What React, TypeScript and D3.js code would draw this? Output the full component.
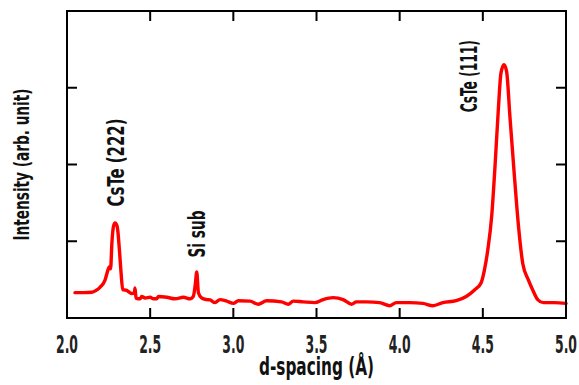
import React from "react";
import * as d3 from "d3";

// XRD scan
const dSpacing = [
  2.048, 2.1, 2.148, 2.175, 2.198, 2.228, 2.247, 2.255, 2.262, 2.27, 2.28, 2.289, 2.302, 2.315, 2.325,
  2.335, 2.359, 2.389, 2.405, 2.409, 2.415, 2.439, 2.449, 2.47, 2.5, 2.52, 2.539, 2.55, 2.6, 2.649,
  2.7, 2.74, 2.759, 2.772, 2.78, 2.79, 2.81, 2.84, 2.86, 2.89, 2.92, 2.96, 3.0, 3.03, 3.1, 3.15,
  3.2, 3.29, 3.33, 3.36, 3.42, 3.49, 3.54, 3.6, 3.66, 3.71, 3.74, 3.8, 3.88, 3.94, 3.98, 4.06,
  4.14, 4.2, 4.26, 4.34, 4.4, 4.45, 4.49, 4.51, 4.53, 4.553, 4.573, 4.593, 4.609, 4.627, 4.643,
  4.663, 4.687, 4.713, 4.74, 4.773, 4.8, 4.83, 4.864, 4.93, 5.0,
];
const intensity = [
  0.33, 0.33, 0.335, 0.36, 0.4, 0.49, 0.63, 0.67, 0.64, 0.98, 1.2, 1.24, 1.19, 0.89, 0.59,
  0.37, 0.36, 0.32, 0.33, 0.39, 0.26, 0.25, 0.28, 0.26, 0.27, 0.25, 0.25, 0.28, 0.27, 0.25,
  0.27, 0.25, 0.28, 0.45, 0.6, 0.33, 0.26, 0.24, 0.235, 0.2, 0.24, 0.22, 0.19, 0.225, 0.22, 0.18,
  0.225, 0.21, 0.18, 0.22, 0.21, 0.2, 0.24, 0.265, 0.24, 0.18, 0.21, 0.21, 0.2, 0.16, 0.2, 0.2,
  0.19, 0.16, 0.2, 0.225, 0.28, 0.365, 0.46, 0.63, 0.89, 1.32, 1.97, 2.71, 3.19, 3.3, 3.21,
  2.62, 1.93, 1.23, 0.71, 0.5, 0.365, 0.24, 0.2, 0.2, 0.19,
];
const xTicks = [2.0, 2.5, 3.0, 3.5, 4.0, 4.5, 5.0];
const yTicks = [1, 2, 3];
// peak labels: position (d, intensity) of the text end, and the squeezed length
const peakLabels = [
  { text: "CsTe (222)", d: 2.345, y: 2.6, len: 88 },
  { text: "Si sub", d: 2.832, y: 1.4, len: 47 },
  { text: "CsTe (111)", d: 4.465, y: 3.62, len: 72 },
];

const W = 579, H = 385;
const margin = { top: 11, right: 13, bottom: 67, left: 67 };
const font = "'Liberation Sans Narrow', 'DejaVu Sans Condensed', 'Liberation Sans', sans-serif";

export default function App() {
  const x = d3.scaleLinear().domain([2, 5]).range([margin.left, W - margin.right]);
  const y = d3.scaleLinear().domain([0, 4]).range([H - margin.bottom, margin.top]);
  const pts = dSpacing.map((d, i) => [d, intensity[i]] as [number, number]);
  const line = d3.line<[number, number]>()
    .x(p => x(p[0]))
    .y(p => y(p[1]))
    .curve(d3.curveMonotoneX);

  const x0 = x(2), x1 = x(5), yb = y(0), yt = y(4);
  const tick = 10;

  return (
    <svg width={W} height={H} style={{ position: "absolute", left: 0, top: 0, background: "#fff" }}>
      <path d={line(pts) || ""} fill="none" stroke="#ff0000" strokeWidth={3.4}
        strokeLinejoin="round" strokeLinecap="round" />

      {/* frame */}
      <rect x={x0} y={yt} width={x1 - x0} height={yb - yt} fill="none" stroke="#000" strokeWidth={2} />

      {/* x ticks, inside, bottom and top */}
      {xTicks.slice(1, -1).map(t => (
        <g key={"xt" + t}>
          <line x1={x(t)} x2={x(t)} y1={yb} y2={yb - tick} stroke="#000" strokeWidth={2} />
          <line x1={x(t)} x2={x(t)} y1={yt} y2={yt + tick} stroke="#000" strokeWidth={2} />
        </g>
      ))}
      {/* y ticks, inside, left and right */}
      {yTicks.map(t => (
        <g key={"yt" + t}>
          <line x1={x0} x2={x0 + tick} y1={y(t)} y2={y(t)} stroke="#000" strokeWidth={2} />
          <line x1={x1} x2={x1 - tick} y1={y(t)} y2={y(t)} stroke="#000" strokeWidth={2} />
        </g>
      ))}

      {/* tick labels */}
      {xTicks.map(t => (
        <text key={"xl" + t} x={x(t)} y={353} textAnchor="middle" fontFamily={font}
          fontWeight="bold" fontSize={24} textLength={22} lengthAdjust="spacingAndGlyphs" fill="#222">
          {t.toFixed(1)}
        </text>
      ))}

      {/* axis titles */}
      <text x={(x0 + x1) / 2} y={375} textAnchor="middle" fontFamily={font} fontWeight="bold"
        fontSize={25} textLength={115} lengthAdjust="spacingAndGlyphs" fill="#111">
        d-spacing (Å)
      </text>
      <text transform={`translate(29,${(yt + yb) / 2}) rotate(-90)`} textAnchor="middle"
        fontFamily={font} fontWeight="bold" fontSize={22} textLength={152}
        lengthAdjust="spacingAndGlyphs" fill="#111">
        Intensity (arb. unit)
      </text>

      {/* peak labels */}
      {peakLabels.map(l => (
        <text key={l.text} transform={`translate(${x(l.d)},${y(l.y)}) rotate(-90)`}
          textAnchor="end" fontFamily={font} fontWeight="bold" fontSize={23}
          textLength={l.len} lengthAdjust="spacingAndGlyphs" fill="#111">
          {l.text}
        </text>
      ))}
    </svg>
  );
}
